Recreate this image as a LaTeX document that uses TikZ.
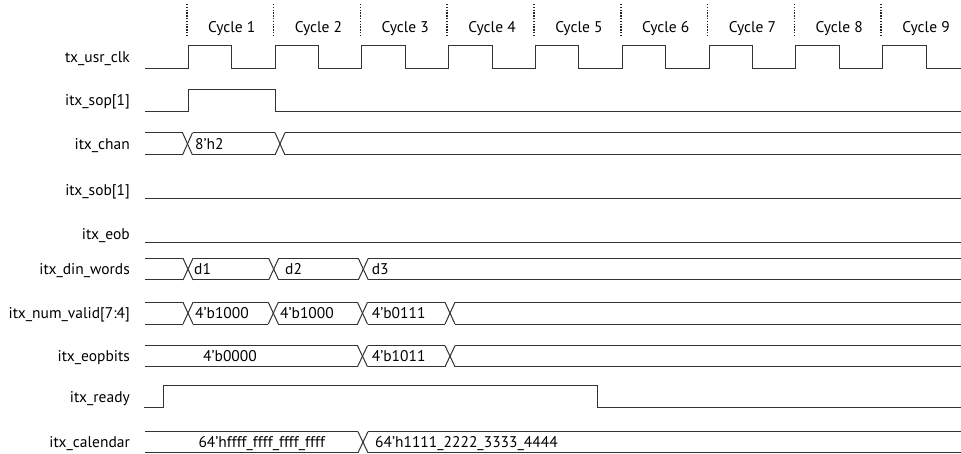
\documentclass[tikz,border=0pt]{standalone}
\usepackage{fontspec}
\setmainfont{PT Sans}
\begin{document}
\begin{tikzpicture}[x=1pt,y=-1pt,
  wave/.style={line width=1pt,draw=black!80},
  lbl/.style={anchor=base east,inner sep=0pt,font=\fontsize{15.5}{18}\selectfont},
  val/.style={anchor=base west,inner sep=0pt,font=\fontsize{15.5}{18}\selectfont},
  cyc/.style={anchor=base,inner sep=0pt,font=\fontsize{15.5}{18}\selectfont},
  tick/.style={line width=1.6pt,black!85,dash pattern=on 1.4pt off 1.4pt}]
\useasboundingbox (0,0) rectangle (961,454);
% bus macro: top, bottom, list of crosses
\newcommand{\busrow}[3]{%
  \def\bt{#1}\def\bb{#2}\def\prev{145}\def\prevh{0}%
  \foreach \cx in {#3}{%
    \draw[wave] (\prev+\prevh,\bt) -- (\cx-5,\bt);
    \draw[wave] (\prev+\prevh,\bb) -- (\cx-5,\bb);
    \draw[wave] (\cx-5,\bt) -- (\cx+5,\bb);
    \draw[wave] (\cx-5,\bb) -- (\cx+5,\bt);
    \xdef\prev{\cx}\xdef\prevh{5}%
  }%
  \draw[wave] (\prev+\prevh,\bt) -- (961,\bt);
  \draw[wave] (\prev+\prevh,\bb) -- (961,\bb);
}
% cycle ticks and labels
\foreach \k in {1,...,9}{
  \pgfmathsetmacro{\rx}{188.3+86.8*(\k-1)}
  \draw[tick] (\rx-1.5,4) -- (\rx-1.5,37);
  \node[cyc] (c\k) at (\rx+43.4,32.5) {Cycle \k};
}
% signal names
\node[lbl] (n1) at (130,62.3) {tx\_usr\_clk};
\node[lbl] (n2) at (130,106) {itx\_sop[1]};
\node[lbl] (n3) at (130,150) {itx\_chan};
\node[lbl] (n4) at (130,196) {itx\_sob[1]};
\node[lbl] (n5) at (130,239.3) {itx\_eob};
\node[lbl] (n6) at (130,275) {itx\_din\_words};
\node[lbl] (n7) at (130,318.8) {itx\_num\_valid[7:4]};
\node[lbl] (n8) at (130,361.5) {itx\_eopbits};
\node[lbl] (n9) at (130,402) {itx\_ready};
\node[lbl] (n10) at (130,447.7) {itx\_calendar};
% clock
\draw[wave] (145,68.5)
  \foreach \k in {1,...,9}{
    -- ({188.3+86.8*(\k-1)},68.5) -- ({188.3+86.8*(\k-1)},45.7)
    -- ({231.7+86.8*(\k-1)},45.7) -- ({231.7+86.8*(\k-1)},68.5)
  } -- (961,68.5);
% sop
\draw[wave] (145,112) -- (188.3,112) -- (188.3,90) -- (275.1,90) -- (275.1,112) -- (961,112);
% chan
\busrow{132.7}{155}{187.5,280}
\node[val] (v1) at (195,150) {8’h2};
% sob, eob
\draw[wave] (145,198.3) -- (961,198.3);
\draw[wave] (145,242.7) -- (961,242.7);
% din words
\busrow{258.3}{280}{188,273.7,363.3}
\node[val] (v2) at (194,275) {d1};
\node[val] (v3) at (285,275) {d2};
\node[val] (v4) at (371.7,275) {d3};
% num valid
\busrow{302.3}{324}{188,273.3,362.5,450}
\node[val] (v5) at (195,318.8) {4’b1000};
\node[val] (v6) at (280,318.8) {4’b1000};
\node[val] (v7) at (371.7,318.8) {4’b0111};
% eopbits
\busrow{345.7}{366.7}{362.5,450}
\node[val] (v8) at (203,361.5) {4’b0000};
\node[val] (v9) at (371.7,361.5) {4’b1011};
% ready
\draw[wave] (144,407.7) -- (163.3,407.7) -- (163.3,385.7) -- (597.7,385.7) -- (597.7,407.7) -- (961,407.7);
% calendar
\busrow{431.7}{452.7}{363}
\node[val] (v10) at (198.3,447.7) {64’hffff\_ffff\_ffff\_ffff};
\node[val] (v11) at (375,447.7) {64’h1111\_2222\_3333\_4444};
\end{tikzpicture}
\end{document}
